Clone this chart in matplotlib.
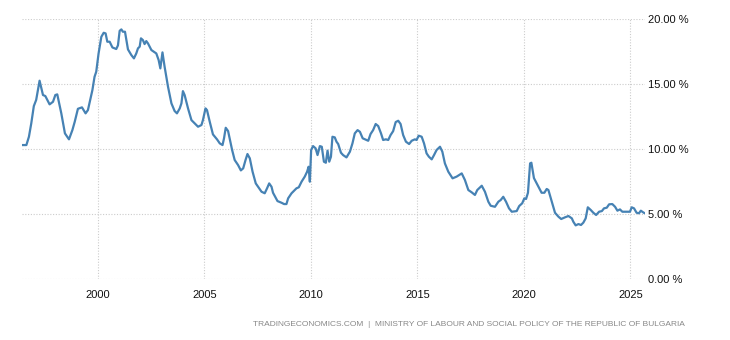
import matplotlib
matplotlib.use("Agg")
import matplotlib.pyplot as plt
from matplotlib.ticker import FuncFormatter

# Bulgaria unemployment rate (decimal years, percent)
years = [
    1996.48, 1996.64, 1996.76, 1996.87, 1996.99, 1997.10, 1997.26, 1997.42, 1997.53,
    1997.73, 1997.89, 1998.00, 1998.09, 1998.28, 1998.45, 1998.64, 1998.80, 1998.91,
    1999.06, 1999.25, 1999.42, 1999.53, 1999.74, 1999.84, 1999.92, 2000.03, 2000.16,
    2000.27, 2000.36, 2000.44, 2000.55, 2000.68, 2000.86, 2000.94, 2001.02, 2001.10,
    2001.17, 2001.27, 2001.41, 2001.57, 2001.69, 2001.80, 2001.88, 2001.96, 2002.02,
    2002.11, 2002.19, 2002.27, 2002.35, 2002.51, 2002.74, 2002.85, 2002.93, 2003.03,
    2003.13, 2003.29, 2003.45, 2003.60, 2003.71, 2003.84, 2003.92, 2003.99, 2004.07,
    2004.23, 2004.39, 2004.54, 2004.70, 2004.86, 2004.93, 2005.05, 2005.12, 2005.25,
    2005.40, 2005.59, 2005.72, 2005.85, 2005.92, 2006.00, 2006.11, 2006.30, 2006.42,
    2006.58, 2006.71, 2006.82, 2006.93, 2007.02, 2007.13, 2007.26, 2007.41, 2007.68,
    2007.83, 2007.94, 2008.04, 2008.15, 2008.22, 2008.43, 2008.62, 2008.74, 2008.85,
    2008.93, 2009.09, 2009.32, 2009.43, 2009.56, 2009.71, 2009.82, 2009.89, 2009.95,
    2010.01, 2010.10, 2010.22, 2010.31, 2010.42, 2010.51, 2010.61, 2010.70, 2010.78,
    2010.86, 2010.94, 2011.01, 2011.12, 2011.20, 2011.28, 2011.41, 2011.51, 2011.67,
    2011.83, 2011.95, 2012.06, 2012.19, 2012.30, 2012.43, 2012.61, 2012.69, 2012.80,
    2012.92, 2013.04, 2013.16, 2013.29, 2013.39, 2013.52, 2013.63, 2013.74, 2013.86,
    2013.98, 2014.10, 2014.21, 2014.33, 2014.46, 2014.61, 2014.73, 2014.88, 2014.96,
    2015.06, 2015.20, 2015.31, 2015.43, 2015.54, 2015.67, 2015.78, 2015.90, 2016.06,
    2016.17, 2016.29, 2016.45, 2016.65, 2016.84, 2017.08, 2017.23, 2017.39, 2017.55,
    2017.70, 2017.81, 2018.02, 2018.17, 2018.33, 2018.44, 2018.64, 2018.80, 2018.91,
    2019.03, 2019.16, 2019.30, 2019.43, 2019.66, 2019.78, 2019.92, 2020.02, 2020.10,
    2020.19, 2020.29, 2020.35, 2020.47, 2020.68, 2020.83, 2020.96, 2021.07, 2021.15,
    2021.31, 2021.46, 2021.62, 2021.75, 2021.93, 2022.09, 2022.25, 2022.32, 2022.43,
    2022.56, 2022.68, 2022.79, 2022.90, 2023.00, 2023.14, 2023.26, 2023.39, 2023.53,
    2023.66, 2023.76, 2023.89, 2024.00, 2024.15, 2024.28, 2024.39, 2024.51, 2024.62,
    2024.83, 2024.98, 2025.06, 2025.17, 2025.29, 2025.40, 2025.49, 2025.60, 2025.68,
]
rates = [
    10.33, 10.33, 10.97, 12.00, 13.33, 13.80, 15.28, 14.18, 14.10,
    13.46, 13.66, 14.18, 14.23, 12.77, 11.23, 10.77, 11.48, 12.12,
    13.12, 13.23, 12.77, 13.02, 14.56, 15.58, 15.97, 17.38, 18.66,
    18.97, 18.92, 18.28, 18.28, 17.84, 17.72, 18.00, 19.12, 19.23,
    19.05, 19.05, 17.69, 17.25, 17.00, 17.38, 17.77, 17.90, 18.54,
    18.41, 18.10, 18.33, 18.15, 17.64, 17.38, 16.87, 16.23, 17.46,
    16.36, 14.82, 13.54, 12.95, 12.77, 13.15, 13.54, 14.48, 14.18,
    13.15, 12.25, 12.00, 11.74, 11.87, 12.25, 13.15, 13.02, 12.12,
    11.15, 10.77, 10.46, 10.33, 10.85, 11.66, 11.41, 9.95, 9.18,
    8.79, 8.38, 8.54, 9.18, 9.64, 9.31, 8.28, 7.38, 6.74,
    6.62, 7.00, 7.38, 7.12, 6.66, 6.02, 5.89, 5.79, 5.79,
    6.23, 6.62, 7.00, 7.08, 7.51, 7.90, 8.28, 8.66, 7.51,
    9.95, 10.25, 10.08, 9.56, 10.25, 10.20, 9.05, 8.97, 9.90,
    9.05, 9.43, 10.97, 10.92, 10.59, 10.41, 9.74, 9.56, 9.38,
    9.82, 10.46, 11.23, 11.48, 11.35, 10.85, 10.72, 10.66, 11.18,
    11.48, 11.95, 11.79, 11.23, 10.72, 10.77, 10.72, 11.10, 11.40,
    12.10, 12.20, 11.95, 11.10, 10.59, 10.41, 10.66, 10.77, 10.72,
    11.05, 10.97, 10.46, 9.69, 9.43, 9.23, 9.56, 9.95, 10.20,
    9.82, 8.92, 8.28, 7.77, 7.90, 8.15, 7.64, 6.87, 6.69,
    6.49, 6.87, 7.20, 6.74, 5.97, 5.66, 5.58, 5.97, 6.10,
    6.35, 5.97, 5.46, 5.20, 5.25, 5.64, 5.85, 6.23, 6.18,
    6.66, 8.92, 8.97, 7.79, 7.12, 6.66, 6.66, 6.95, 6.87,
    5.97, 5.12, 4.82, 4.64, 4.77, 4.87, 4.69, 4.43, 4.15,
    4.25, 4.18, 4.36, 4.69, 5.54, 5.33, 5.12, 4.95, 5.20,
    5.25, 5.46, 5.51, 5.77, 5.79, 5.58, 5.28, 5.38, 5.20,
    5.20, 5.20, 5.54, 5.46, 5.12, 5.08, 5.28, 5.15, 5.08,
]
x_ticks = [2000, 2005, 2010, 2015, 2020, 2025]
y_ticks = [0, 5, 10, 15, 20]
source = "TRADINGECONOMICS.COM  |  MINISTRY OF LABOUR AND SOCIAL POLICY OF THE REPUBLIC OF BULGARIA"

plt.rcParams["font.family"] = ["Liberation Sans", "DejaVu Sans"]

fig = plt.figure(figsize=(7.3, 3.4), dpi=100)
ax = fig.add_axes([0.030, 0.1785, 0.854, 0.7645])

ax.plot(years, rates, color="#4682b4", linewidth=1.6, solid_joinstyle="round")

ax.set_xlim(years[0] - 0.05, years[-1] + 0.02)
ax.set_ylim(0, 20)
ax.set_xticks(x_ticks)
ax.set_yticks(y_ticks)
ax.yaxis.tick_right()
ax.yaxis.set_major_formatter(FuncFormatter(lambda v, p: f"{v:.2f} %"))
ax.tick_params(axis="both", length=0, labelsize=8, colors="#111111")
ax.tick_params(axis="x", pad=8)
ax.tick_params(axis="y", pad=2)

ax.grid(True, color="#cccccc", linestyle=(0, (1, 1.5)), linewidth=0.8)
ax.set_axisbelow(True)
for s in ax.spines.values():
    s.set_visible(False)

fig.text(685 / 730, 1 - 324 / 340, source, ha="right", va="center",
         fontsize=6, color="#888888")

fig.savefig("out.png", dpi=100)
